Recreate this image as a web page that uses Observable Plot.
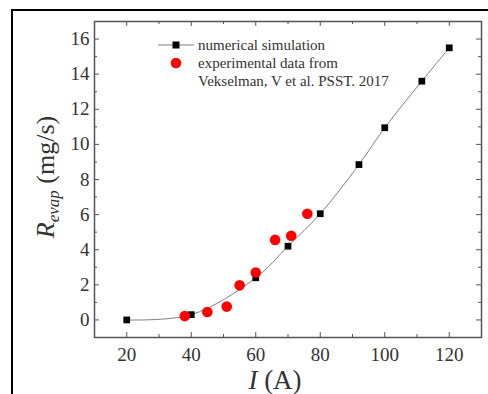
<!DOCTYPE html>
<html>
<head>
<meta charset="utf-8">
<script src="https://cdn.jsdelivr.net/npm/d3@7"></script>
<script src="https://cdn.jsdelivr.net/npm/@observablehq/plot@0.6"></script>
<style>
  html, body { margin: 0; padding: 0; background: #fff; overflow: hidden; }
  #wrap { position: relative; width: 488px; height: 394px; }
  #border { position: absolute; left: 11px; top: 9px; width: 520px; height: 420px; border: 2.5px solid #000; box-sizing: border-box; pointer-events: none; }
  svg, svg text, svg tspan { font-family: "Liberation Serif", "Times New Roman", "DejaVu Serif", serif !important; }
</style>
</head>
<body>
<div id="wrap"><div id="border"></div></div>
<script>
// Data
const simI = [20, 40, 60, 70, 80, 92, 100, 111.5, 120];
const simR = [0, 0.3, 2.4, 4.2, 6.05, 8.85, 10.95, 13.6, 15.5];
const expI = [38, 45, 51, 55, 60, 66, 71, 76];
const expR = [0.22, 0.45, 0.76, 1.97, 2.7, 4.56, 4.8, 6.05];
const xMajor = [20, 40, 60, 80, 100, 120];
const xMinor = [30, 50, 70, 90, 110];
const yMajor = [0, 2, 4, 6, 8, 10, 12, 14, 16];
const yMinor = [1, 3, 5, 7, 9, 11, 13, 15];
const legendLabels = ["numerical simulation", "experimental data from", "Vekselman, V et al. PSST. 2017"];

const sim = simI.map((x, i) => ({x, y: simR[i]}));
const exp = expI.map((x, i) => ({x, y: expR[i]}));

const W = 488, H = 394, mL = 94, mR = 7, mT = 21, mB = 57;
const fw = W - mL - mR, fh = H - mT - mB;
const axisColor = "#555";
const majLen = 5, minLen = 3;
const serif = "Liberation Serif";

const plot = Plot.plot({
  width: W, height: H,
  marginLeft: mL, marginRight: mR, marginTop: mT, marginBottom: mB,
  x: {domain: [10, 130]},
  y: {domain: [-1, 17]},
  style: {fontFamily: serif, fontSize: "19px", color: "#333", background: "transparent", overflow: "visible"},
  marks: [
    Plot.axisX(xMajor, {tickSize: 0, tickPadding: 10, label: null, fill: "#333", fontFamily: serif}),
    Plot.axisY(yMajor, {tickSize: 0, tickPadding: 5, label: null, fill: "#333", fontFamily: serif}),
    // inward ticks, bottom & top
    Plot.tickX(xMajor, {x: d => d, insetTop: fh - majLen, stroke: axisColor}),
    Plot.tickX(xMajor, {x: d => d, insetBottom: fh - majLen, stroke: axisColor}),
    Plot.tickX(xMinor, {x: d => d, insetTop: fh - minLen, stroke: axisColor}),
    Plot.tickX(xMinor, {x: d => d, insetBottom: fh - minLen, stroke: axisColor}),
    // inward ticks, left & right
    Plot.tickY(yMajor, {y: d => d, insetRight: fw - majLen, stroke: axisColor}),
    Plot.tickY(yMajor, {y: d => d, insetLeft: fw - majLen, stroke: axisColor}),
    Plot.tickY(yMinor, {y: d => d, insetRight: fw - minLen, stroke: axisColor}),
    Plot.tickY(yMinor, {y: d => d, insetLeft: fw - minLen, stroke: axisColor}),
    Plot.line(sim, {x: "x", y: "y", curve: "catmull-rom", stroke: "#808080", strokeWidth: 1}),
    Plot.dot(sim, {x: "x", y: "y", symbol: "square", r: 3.8, fill: "#000", stroke: "none"}),
    Plot.dot(exp, {x: "x", y: "y", r: 5.3, fill: "#f00", stroke: "none"}),
    Plot.frame({stroke: axisColor, strokeWidth: 1.5})
  ]
});

document.getElementById("wrap").insertBefore(plot, document.getElementById("border"));

const svg = d3.select(plot);

// Y axis label
const yl = svg.append("text")
  .attr("transform", "translate(54,177) rotate(-90)")
  .attr("text-anchor", "middle")
  .attr("font-size", 26)
  .attr("fill", "#333");
yl.append("tspan").attr("font-style", "italic").text("R");
yl.append("tspan").attr("font-style", "italic").attr("font-size", 17).attr("dy", 5).text("evap");
yl.append("tspan").attr("dy", -5).text(" (mg/s)");

// X axis label
const xl = svg.append("text")
  .attr("x", 275).attr("y", 389)
  .attr("text-anchor", "middle")
  .attr("font-size", 27)
  .attr("fill", "#333");
xl.append("tspan").attr("font-style", "italic").text("I");
xl.append("tspan").text(" (A)");

// Legend
const lg = svg.append("g").attr("text-anchor", "start");
lg.append("line").attr("x1", 158).attr("x2", 194).attr("y1", 45).attr("y2", 45).attr("stroke", "#808080");
lg.append("rect").attr("x", 172.5).attr("y", 41.5).attr("width", 7).attr("height", 7).attr("fill", "#000");
lg.append("circle").attr("cx", 176).attr("cy", 63).attr("r", 5.3).attr("fill", "#f00");
[50, 68, 86].forEach((y, i) => {
  lg.append("text").attr("x", 198).attr("y", y).attr("text-anchor", "start").attr("font-size", 15).attr("fill", "#333").text(legendLabels[i]);
});
</script>
</body>
</html>
